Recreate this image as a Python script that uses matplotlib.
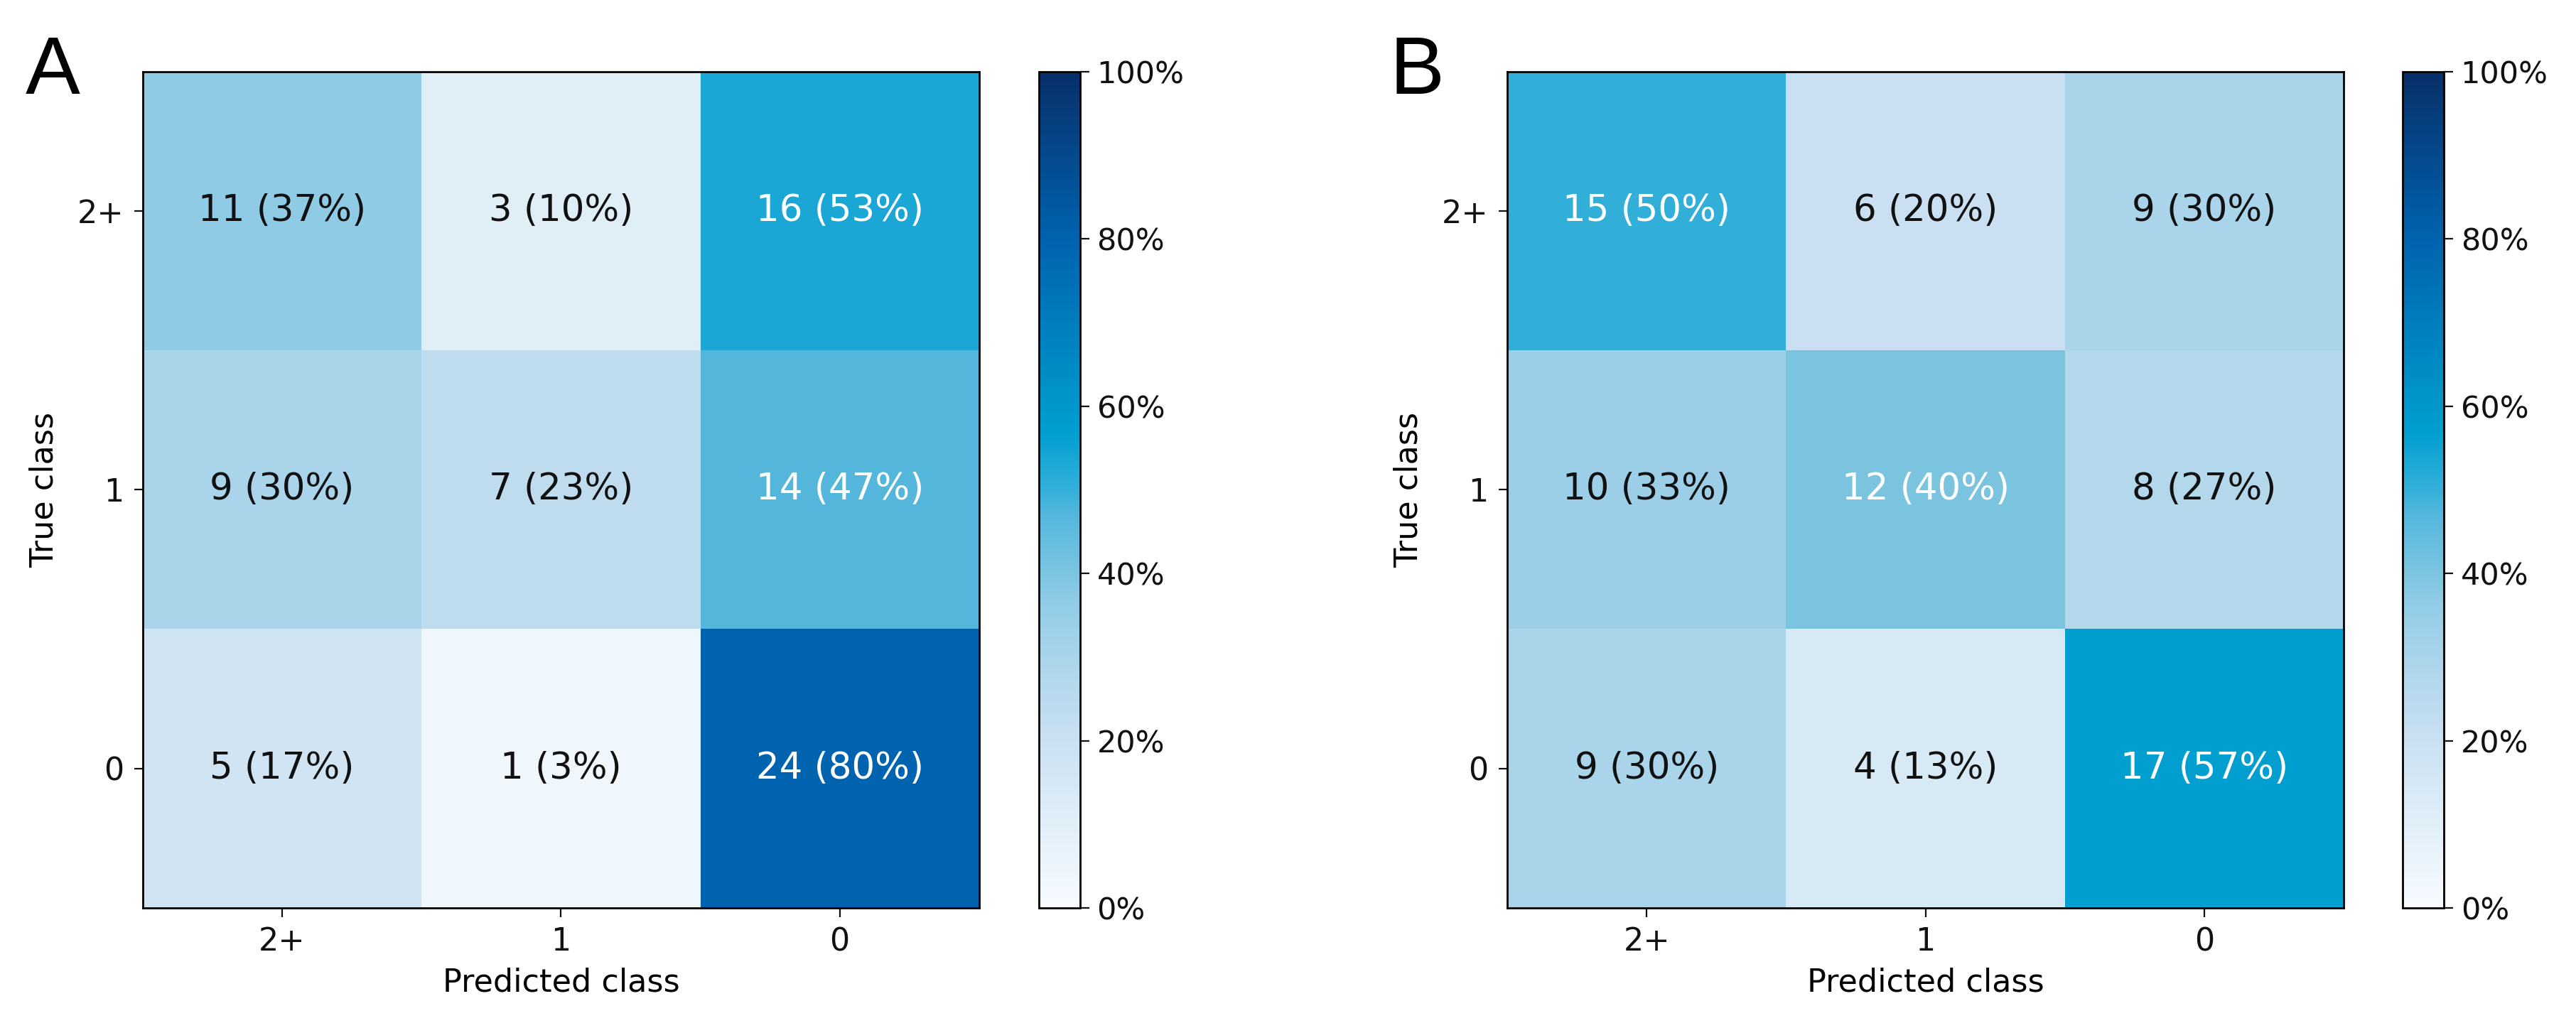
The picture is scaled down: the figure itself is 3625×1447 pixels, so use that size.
import matplotlib

matplotlib.use("Agg")
import matplotlib.pyplot as plt
import numpy as np
from matplotlib.colors import LinearSegmentedColormap
from matplotlib.ticker import PercentFormatter

# confusion matrices (rows = true class, cols = predicted class)
class_labels = ["2+", "1", "0"]
counts_a = [[11, 3, 16], [9, 7, 14], [5, 1, 24]]
counts_b = [[15, 6, 9], [10, 12, 8], [9, 4, 17]]
panel_names = ["A", "B"]
cbar_ticks = [0.0, 0.2, 0.4, 0.6, 0.8, 1.0]

# colour ramp picked off the reference colourbar
cmap_stops = [
    (0.00, "#f7fbff"),
    (0.10, "#e0eef8"),
    (0.20, "#cae0f2"),
    (0.30, "#a9d4ea"),
    (0.37, "#8ecbe5"),
    (0.40, "#7bc4e0"),
    (0.47, "#54b6dc"),
    (0.50, "#33b0da"),
    (0.57, "#009fd0"),
    (0.80, "#0063af"),
    (1.00, "#08306b"),
]
cmap = LinearSegmentedColormap.from_list("cm_blue", cmap_stops)

plt.rcParams["font.family"] = ["DejaVu Sans"]

fig = plt.figure(figsize=(36.25, 14.47), dpi=100)

ax_w, ax_h, bottom = 0.3247, 0.8134, 0.1168
layout = [
    (0.0554, 0.4033, 0.010),
    (0.5851, 0.9327, 0.5395),
]

for counts, name, (ax_x, cb_x, lab_x) in zip([counts_a, counts_b], panel_names, layout):
    counts = np.array(counts)
    pct = counts / counts.sum(axis=1, keepdims=True)

    ax = fig.add_axes([ax_x, bottom, ax_w, ax_h])
    cax = fig.add_axes([cb_x, bottom, 0.016, ax_h])

    im = ax.imshow(pct, cmap=cmap, vmin=0, vmax=1, aspect="auto")

    for i in range(pct.shape[0]):
        for j in range(pct.shape[1]):
            val = pct[i, j]
            color = "white" if val >= 0.395 else "#111111"
            ax.text(j, i, f"{counts[i, j]} ({val * 100:.0f}%)",
                    ha="center", va="center", fontsize=37, color=color)

    ax.set_xticks(range(len(class_labels)))
    ax.set_yticks(range(len(class_labels)))
    ax.set_xticklabels(class_labels)
    ax.set_yticklabels(class_labels)
    ax.tick_params(labelsize=32, length=9, width=1.6, pad=10, colors="#111111")
    ax.set_xlabel("Predicted class", fontsize=32, labelpad=10)
    ax.set_ylabel("True class", fontsize=32, labelpad=18)
    for sp in ax.spines.values():
        sp.set_linewidth(2.0)

    cb = fig.colorbar(im, cax=cax, ticks=cbar_ticks)
    cb.ax.yaxis.set_major_formatter(PercentFormatter(xmax=1, decimals=0))
    cb.ax.tick_params(labelsize=31, length=9, width=1.6, pad=8, colors="#111111")
    cb.outline.set_linewidth(2.0)

    fig.text(lab_x, 0.9088, name, fontsize=83, family="Liberation Sans",
             ha="left", va="baseline")

fig.savefig("out.png", dpi=100)
